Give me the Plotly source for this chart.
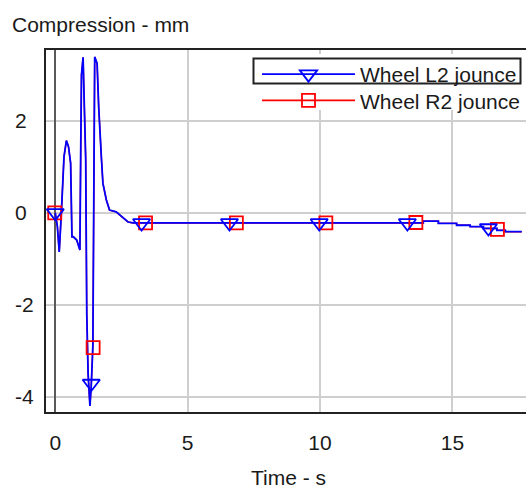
import plotly.graph_objects as go

# ---- data ----
time_s = [0, 0.08, 0.15, 0.2, 0.23, 0.33, 0.42, 0.5, 0.58, 0.63, 0.68, 0.81, 0.93,
          0.96, 0.99, 1.05, 1.1, 1.15, 1.19, 1.24, 1.31, 1.36, 1.42, 1.45, 1.49,
          1.58, 1.64, 1.74, 1.8, 1.93, 2.05, 2.3, 2.49, 2.75, 2.94,
          13.9, 13.9, 14.47, 14.47, 15.16, 15.16, 15.67, 15.67, 16.17, 16.17,
          16.68, 16.68, 17.0, 17.0, 17.62]
l2_jounce = [0, -0.3, -0.85, -0.4, 0.0, 1.22, 1.57, 1.44, 1.08, -0.52, -0.52, -0.59, -0.81,
             1.2, 3.0, 3.38, 2.5, 1.15, -2.2, -3.5, -4.2, -3.75, -2.9, 0.3, 3.39,
             3.25, 2.3, 1.22, 0.64, 0.28, 0.06, 0.02, -0.07, -0.2, -0.22,
             -0.22, -0.18, -0.18, -0.23, -0.23, -0.27, -0.27, -0.30, -0.30, -0.34,
             -0.34, -0.38, -0.38, -0.41, -0.41]
r2_jounce = list(l2_jounce)  # hidden under the blue curve in the picture

l2_marker_t = [0.0, 1.36, 3.26, 6.58, 9.97, 13.3, 16.36]
l2_marker_y = [0.0, -3.71, -0.22, -0.22, -0.22, -0.22, -0.33]
r2_marker_t = [-0.02, 1.43, 3.41, 6.84, 10.22, 13.62, 16.7]
r2_marker_y = [0.0, -2.93, -0.22, -0.22, -0.22, -0.21, -0.36]

series_names = ["Wheel L2 jounce", "Wheel R2 jounce"]
x_ticks = [0, 5, 10, 15]
y_ticks = [-4, -2, 0, 2]
y_tick_text = ["-4", "-2", "0", "2"]

title_text = "Compression - mm"
x_title = "Time - s"

# ---- layout geometry ----
W, H = 526, 490
L, R, T, B = 46, 0, 50, 78
pw, ph = W - L - R, H - T - B


def px_x(px):
    return (px - L) / pw


def px_y(py):
    return (H - B - py) / ph


FONT = "Arial, Liberation Sans, sans-serif"
TXT = "#1a1a1a"
BLUE = "#0000ff"
RED = "#ff0000"

fig = go.Figure()

# red below, blue on top
fig.add_trace(go.Scatter(x=time_s, y=r2_jounce, mode="lines",
                         line=dict(color=RED, width=1.4), showlegend=False, hoverinfo="skip"))
fig.add_trace(go.Scatter(x=time_s, y=l2_jounce, mode="lines",
                         line=dict(color=BLUE, width=1.8), showlegend=False, hoverinfo="skip"))
fig.add_trace(go.Scatter(x=r2_marker_t, y=r2_marker_y, mode="markers",
                         marker=dict(symbol="square-open", size=13, color=RED, line=dict(width=1.8)),
                         showlegend=False))
fig.add_trace(go.Scatter(x=l2_marker_t, y=l2_marker_y, mode="markers",
                         marker=dict(symbol="triangle-down-open", size=15, color=BLUE, line=dict(width=1.8)),
                         showlegend=False))
# legend entries (one legend each so the row spacing can match)
fig.add_trace(go.Scatter(x=[None], y=[None], mode="lines+markers", name=series_names[0],
                         line=dict(color=BLUE, width=1.8), legend="legend",
                         marker=dict(symbol="triangle-down-open", size=15, color=BLUE, line=dict(width=1.8))))
fig.add_trace(go.Scatter(x=[None], y=[None], mode="lines+markers", name=series_names[1],
                         line=dict(color=RED, width=1.8), legend="legend2",
                         marker=dict(symbol="square-open", size=13, color=RED, line=dict(width=1.8))))

GRID = "#cfcfcf"
fig.update_xaxes(range=[-0.35, 17.78], tickvals=x_ticks, showgrid=True, gridcolor=GRID, gridwidth=1.5,
                 zeroline=True, zerolinecolor="#5a5a5a", zerolinewidth=1.5,
                 showline=True, linecolor="#222222", linewidth=2, mirror=True, automargin=False,
                 ticks="", ticklabelstandoff=11, tickfont=dict(family=FONT, size=21, color=TXT))
fig.update_yaxes(range=[-4.33, 3.54], tickvals=y_ticks, showticklabels=False, showgrid=True,
                 gridcolor=GRID, gridwidth=1.5, zeroline=False, automargin=False,
                 showline=True, linecolor="#222222", linewidth=2, mirror=False, ticks="")

annotations = [dict(xref="paper", yref="y", x=px_x(13), y=v, text=t, showarrow=False,
                    xanchor="left", yanchor="middle", font=dict(family=FONT, size=21, color=TXT))
               for v, t in zip(y_ticks, y_tick_text)]
annotations.append(dict(xref="paper", yref="paper", x=px_x(10), y=px_y(24), text=title_text,
                        showarrow=False, xanchor="left", yanchor="middle",
                        font=dict(family=FONT, size=21, color=TXT)))
annotations.append(dict(xref="paper", yref="paper", x=px_x(288), y=px_y(477), text=x_title,
                        showarrow=False, xanchor="center", yanchor="middle",
                        font=dict(family=FONT, size=21, color=TXT)))

shapes = [
    dict(type="rect", xref="paper", yref="paper", x0=px_x(250), x1=px_x(528), y0=px_y(110), y1=px_y(54),
         fillcolor="white", line=dict(width=0), layer="above"),
    dict(type="rect", xref="paper", yref="paper", x0=px_x(253.5), x1=px_x(520.5), y0=px_y(83.5), y1=px_y(58.5),
         fillcolor="rgba(0,0,0,0)", line=dict(color="#222222", width=2), layer="above"),
]

leg_common = dict(xanchor="left", yanchor="top", bgcolor="rgba(0,0,0,0)", borderwidth=0,
                  itemwidth=93, font=dict(family=FONT, size=21, color=TXT))

fig.update_layout(
    width=W, height=H, margin=dict(l=L, r=R, t=T, b=B, pad=0, autoexpand=False),
    paper_bgcolor="white", plot_bgcolor="white",
    font=dict(family=FONT, size=21, color=TXT),
    showlegend=True,
    legend=dict(x=px_x(257), y=px_y(54), **leg_common),
    legend2=dict(x=px_x(257), y=px_y(80.3), **leg_common),
    annotations=annotations, shapes=shapes,
)

fig.write_html("out.html")
